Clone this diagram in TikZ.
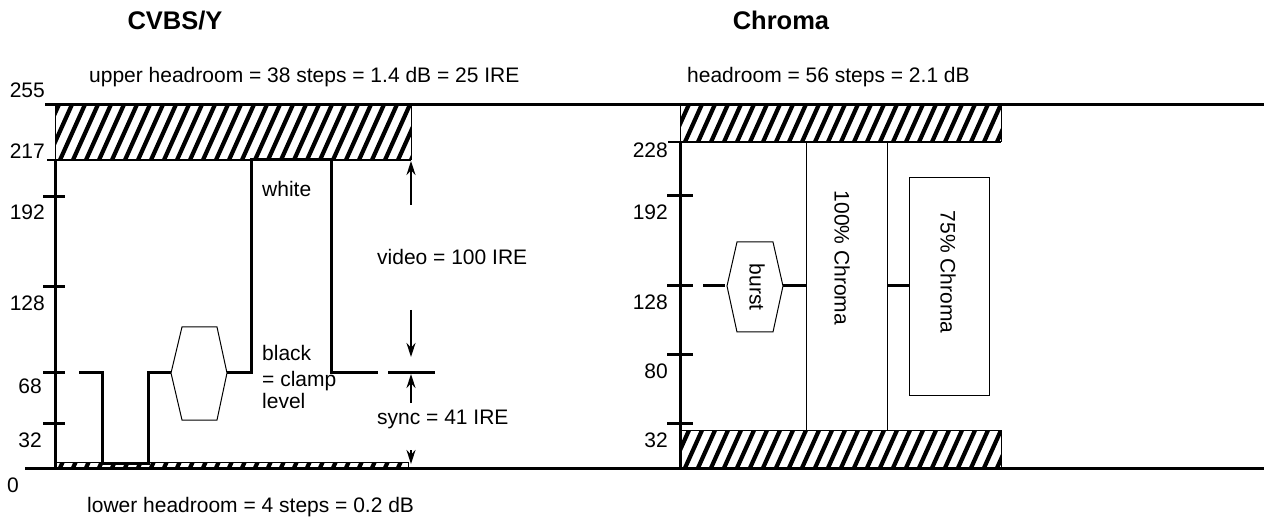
\documentclass[tikz,border=0pt]{standalone}
\usepackage{fontspec}
\setmainfont{Liberation Sans}
\usetikzlibrary{arrows.meta}
\newcommand{\hatchbox}[4]{%
  \begin{scope}
    \clip (#1,#2) rectangle (#3,#4);
    \pgfmathsetmacro{\hh}{#4-#2}
    \pgfmathsetmacro{\xs}{#1-60}
    \pgfmathsetmacro{\xt}{#1-47}
    \foreach \xx in {\xs,\xt,...,#3} \draw[line width=4.2pt] (\xx,#4) -- ++(0.45*\hh,-\hh);
  \end{scope}
  \draw[thinl] (#1,#2) rectangle (#3,#4);}
\begin{document}
\begin{tikzpicture}[x=1pt,y=-1pt,
  lbl/.style={font=\fontsize{21}{24}\selectfont, inner sep=0pt},
  ttl/.style={font=\fontsize{25.5}{28}\selectfont\bfseries, inner sep=0pt},
  thickl/.style={line width=3pt},
  thinl/.style={line width=1pt},
  arr/.style={line width=1.5pt, -{Stealth[length=14pt,width=9pt]}},
]
\useasboundingbox (0,0) rectangle (1264,521);
% hatched headroom areas
\hatchbox{55}{105}{411}{160}
\hatchbox{55}{462}{408}{468}
\hatchbox{680}{105}{1001}{142}
\hatchbox{680}{430}{1001}{468}
% main lines
\draw[thickl] (45,105) -- (1264,105);
\draw[thickl] (25,468) -- (1264,468);
\draw[line width=2pt] (47,160) -- (411,160);
\draw[line width=2pt] (668,142) -- (1001,142);
% axes
\draw[thickl] (55,160) -- (55,468);
\draw[thickl] (680,142) -- (680,468);
\foreach \yy in {197,287,372,423} \draw[thickl] (43,\yy) -- (65,\yy);
\foreach \yy in {196,286,355,423} \draw[thickl] (667,\yy) -- (693,\yy);
% axis labels left
\node[lbl,anchor=base east] (l255) at (45,98) {255};
\node[lbl,anchor=base east] (l217) at (45,159) {217};
\node[lbl,anchor=base east] (l192) at (45,220) {192};
\node[lbl,anchor=base east] (l128) at (45,311) {128};
\node[lbl,anchor=base east] (l68) at (42,393) {68};
\node[lbl,anchor=base east] (l32) at (42,447) {32};
\node[lbl,anchor=base] (l0) at (13,492) {0};
% axis labels right
\node[lbl,anchor=base east] (r228) at (668,158) {228};
\node[lbl,anchor=base east] (r192) at (668,220) {192};
\node[lbl,anchor=base east] (r128) at (668,310) {128};
\node[lbl,anchor=base east] (r80) at (668,378) {80};
\node[lbl,anchor=base east] (r32) at (668,447) {32};
% titles and headroom texts
\node[ttl,anchor=base] (t1) at (175,30) {CVBS/Y};
\node[ttl,anchor=base] (t2) at (781,30) {Chroma};
\node[lbl,anchor=base west] (uh) at (89,83) {upper headroom = 38 steps = 1.4 dB = 25 IRE};
\node[lbl,anchor=base west] (ch) at (687,83) {headroom = 56 steps = 2.1 dB};
\node[lbl,anchor=base west] (lh) at (87,512) {lower headroom = 4 steps = 0.2 dB};
% CVBS signal
\draw[thickl] (79,372) -- (102,372) -- (102,463) -- (148,463) -- (148,372) -- (171,372);
\draw[thickl] (227,372) -- (251,372) -- (251,160) -- (331,160) -- (331,372) -- (378,372);
\draw[thickl] (388,372) -- (435,372);
\draw[thinl] (171,373) -- (182,327) -- (217,327) -- (227,373) -- (217,420) -- (182,420) -- cycle;
\node[lbl,anchor=base west] (white) at (262,197) {white};
\node[lbl,anchor=base west] (black) at (262,360) {black};
\node[lbl,anchor=base west] (clamp) at (262,386) {= clamp};
\node[lbl,anchor=base west] (level) at (262,408) {level};
% dimension arrows
\coordinate (va) at (411,205); \coordinate (vb) at (411,161);
\coordinate (vc) at (411,310); \coordinate (vd) at (411,357);
\coordinate (sa) at (411,403); \coordinate (sb) at (411,374);
\coordinate (sc) at (411,450); \coordinate (sd) at (411,464);
\draw[arr] (va) -- (vb);
\draw[arr] (vc) -- (vd);
\draw[arr] (sa) -- (sb);
\draw[arr] (sc) -- (sd);
\node[lbl,anchor=base west] (video) at (377,265) {video = 100 IRE};
\node[lbl,anchor=base west] (sync) at (377,424) {sync = 41 IRE};
% Chroma part
\draw[thinl] (806,142) -- (806,430);
\draw[thinl] (887,142) -- (887,430);
\draw[thickl] (703,286) -- (725,286);
\draw[thickl] (783,286) -- (806,286);
\draw[thickl] (887,286) -- (909,286);
\draw[thinl] (727,286) -- (737,242) -- (773,242) -- (783,286) -- (773,332) -- (737,332) -- cycle;
\draw[thinl] (909,178) rectangle (989,395);
\node[lbl,rotate=-90] (burst) at (757,287) {burst};
\node[lbl,rotate=-90] (c100) at (842,258) {100\% Chroma};
\node[lbl,rotate=-90] (c75) at (948,272) {75\% Chroma};
\end{tikzpicture}
\end{document}
